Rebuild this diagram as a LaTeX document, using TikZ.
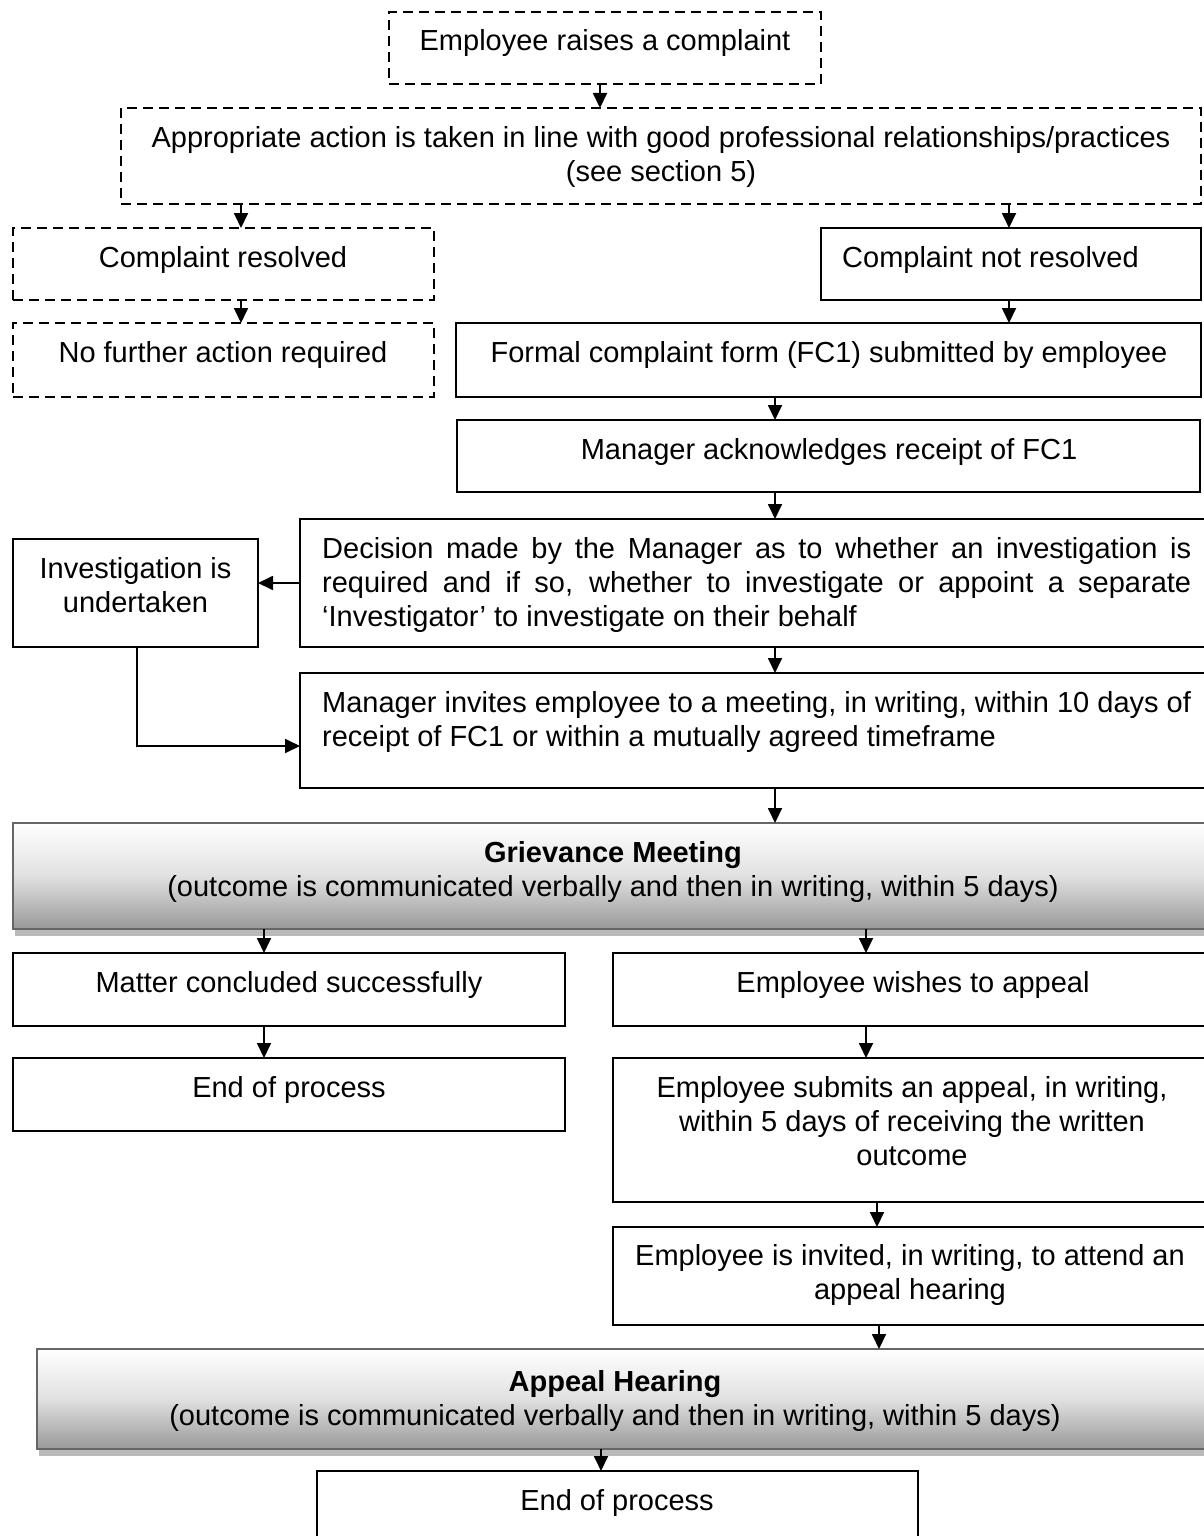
\documentclass[tikz,border=0pt]{standalone}
\usepackage{fontspec}
\setmainfont{Liberation Sans}
\usetikzlibrary{arrows.meta,shadows}
\newcommand{\fsz}{\fontsize{29}{34}\selectfont\hyphenpenalty=10000\exhyphenpenalty=10000 }
\newcommand{\mkbox}[6]{\node[#1, minimum width={#5-#3}, minimum height={#6-#4}] (#2) at ({(#3+#5)/2},{(#4+#6)/2}) {};}
\begin{document}
\begin{tikzpicture}[x=1pt,y=-1pt,
  boxs/.style={draw=black, line width=2.5pt, inner sep=0pt, outer sep=0pt, fill=white},
  dbox/.style={boxs, dash pattern=on 10pt off 6pt},
  gbox/.style={draw=black!60, line width=2.5pt, inner sep=0pt, outer sep=0pt,
     top color=white, bottom color=black!40, middle color=black!12,
     drop shadow={shadow xshift=2pt, shadow yshift=-7pt, fill=black!27, opacity=1}},
  txt/.style={inner sep=0pt, font=\fsz, align=center},
  arr/.style={line width=1.8pt, -{Triangle[length=15pt,width=14pt]}},
]
\useasboundingbox (0,0) rectangle (1204,1536);
\clip (0,0) rectangle (1204,1536);

% boxes
\mkbox{dbox}{b1}{389}{12}{821}{84}
\mkbox{dbox}{b2}{121}{108}{1201}{204}
\mkbox{dbox}{b3}{13}{228}{434}{300}
\mkbox{boxs}{b4}{821}{228}{1201}{300}
\mkbox{dbox}{b5}{13}{323}{434}{397}
\mkbox{boxs}{b6}{456}{323}{1201}{397}
\mkbox{boxs}{b7}{457}{420}{1200}{492}
\mkbox{boxs}{b8}{300}{519}{1213}{647}
\mkbox{boxs}{b9}{13}{539}{258}{647}
\mkbox{boxs}{b10}{300}{673}{1213}{788}
\mkbox{gbox}{g1}{13}{823}{1213}{929}
\mkbox{boxs}{b11}{13}{953}{565}{1026}
\mkbox{boxs}{b12}{613}{953}{1213}{1026}
\mkbox{boxs}{b13}{13}{1058}{565}{1131}
\mkbox{boxs}{b14}{613}{1058}{1213}{1202}
\mkbox{boxs}{b15}{613}{1227}{1213}{1325}
\mkbox{gbox}{g2}{37}{1349}{1213}{1449}
\mkbox{boxs}{b16}{317}{1471}{918}{1560}

% texts
\node[txt, anchor=north] (t1) at (605,27) {\strut Employee raises a complaint};
\node[txt, anchor=north] (t2) at (661,123) {\strut Appropriate action is taken in line with good professional relationships/practices\\(see section 5)};
\node[txt, anchor=north] (t3) at (223,243) {\strut Complaint resolved};
\node[txt, anchor=north west] (t4) at (842,243) {\strut Complaint not resolved};
\node[txt, anchor=north] (t5) at (223,338) {\strut No further action required};
\node[txt, anchor=north] (t6) at (829,338) {\strut Formal complaint form (FC1) submitted by employee};
\node[txt, anchor=north] (t7) at (829,435) {\strut Manager acknowledges receipt of FC1};
\node[txt, anchor=north west, align=justify, text width=869pt] (t8) at (322,534)
  {\strut Decision made by the Manager as to whether an investigation is\linebreak required and if so, whether to investigate or appoint a separate\linebreak ‘Investigator’ to investigate on their behalf};
\node[txt, anchor=north] (t9) at (135.5,554) {\strut Investigation is\\undertaken};
\node[txt, anchor=north west, align=left] (t10) at (322,688)
  {\strut Manager invites employee to a meeting, in writing, within 10 days of\\receipt of FC1 or within a mutually agreed timeframe};
\node[txt, anchor=north] (tg1) at (613,838) {\strut\textbf{Grievance Meeting}\\(outcome is communicated verbally and then in writing, within 5 days)};
\node[txt, anchor=north] (t11) at (289,968) {\strut Matter concluded successfully};
\node[txt, anchor=north] (t12) at (913,968) {\strut Employee wishes to appeal};
\node[txt, anchor=north] (t13) at (289,1073) {\strut End of process};
\node[txt, anchor=north] (t14) at (912,1073) {\strut Employee submits an appeal, in writing,\\within 5 days of receiving the written\\outcome};
\node[txt, anchor=north] (t15) at (910,1241) {\strut Employee is invited, in writing, to attend an\\appeal hearing};
\node[txt, anchor=north] (tg2) at (615,1367) {\strut\textbf{Appeal Hearing}\\(outcome is communicated verbally and then in writing, within 5 days)};
\node[txt, anchor=north] (t16) at (617,1486) {\strut End of process};

% connectors
\draw[arr] (b1.south -| 600,0) -- (b2.north -| 600,0);
\draw[arr] (b2.south -| 241,0) -- (b3.north -| 241,0);
\draw[arr] (b2.south -| 1009,0) -- (b4.north -| 1009,0);
\draw[arr] (b3.south -| 241,0) -- (b5.north -| 241,0);
\draw[arr] (b4.south -| 1009,0) -- (b6.north -| 1009,0);
\draw[arr] (b6.south -| 775,0) -- (b7.north -| 775,0);
\draw[arr] (b7.south -| 775,0) -- (b8.north -| 775,0);
\draw[arr] (b8.west |- 0,583) -- (b9.east |- 0,583);
\draw[arr] (b8.south -| 775,0) -- (b10.north -| 775,0);
\draw[arr] (b9.south -| 137,0) |- (b10.west |- 0,746);
\draw[arr] (b10.south -| 775,0) -- (g1.north -| 775,0);
\draw[arr] (g1.south -| 264,0) -- (b11.north -| 264,0);
\draw[arr] (g1.south -| 866,0) -- (b12.north -| 866,0);
\draw[arr] (b11.south -| 264,0) -- (b13.north -| 264,0);
\draw[arr] (b12.south -| 866,0) -- (b14.north -| 866,0);
\draw[arr] (b14.south -| 877,0) -- (b15.north -| 877,0);
\draw[arr] (b15.south -| 879,0) -- (g2.north -| 879,0);
\draw[arr] (g2.south -| 601,0) -- (b16.north -| 601,0);
\end{tikzpicture}
\end{document}
